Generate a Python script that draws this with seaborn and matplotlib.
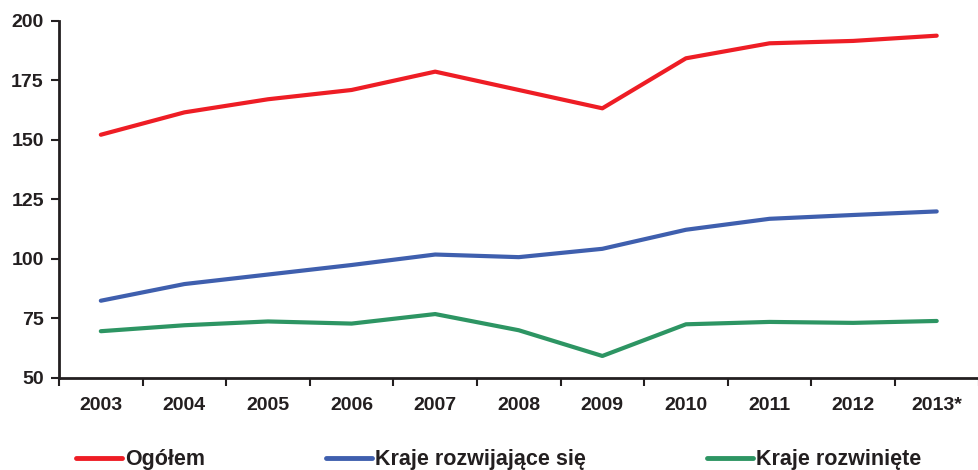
import numpy as np
import pandas as pd
import matplotlib
matplotlib.use("Agg")
import matplotlib.pyplot as plt
from matplotlib.ticker import FixedLocator
import seaborn as sns

# ------------------ Data ------------------
years = ["2003", "2004", "2005", "2006", "2007", "2008", "2009",
         "2010", "2011", "2012", "2013*"]
ogolem = [152.1, 161.5, 167.0, 170.9, 178.6, 170.9, 163.2, 184.2, 190.5, 191.5, 193.7]
rozwijajace = [82.4, 89.4, 93.4, 97.4, 101.8, 100.7, 104.2, 112.2, 116.8, 118.4, 119.9]
rozwiniete = [69.6, 72.1, 73.7, 72.8, 76.8, 70.0, 59.2, 72.5, 73.5, 73.1, 73.9]

series_names = ["Ogółem", "Kraje rozwijające się", "Kraje rozwinięte"]
colors = ["#EE1D25", "#3F5FAE", "#2D9563"]

pos = np.arange(len(years))
df = pd.DataFrame({
    "pos": np.tile(pos, 3),
    "value": ogolem + rozwijajace + rozwiniete,
    "series": np.repeat(series_names, len(years)),
})

# ------------------ Plot ------------------
sns.set_style("white")
plt.rcParams["font.family"] = ["Liberation Sans", "DejaVu Sans"]
plt.rcParams["font.weight"] = "bold"

fig, ax = plt.subplots(figsize=(9.79, 4.70), dpi=100)
fig.subplots_adjust(left=0.0603, right=0.9995, top=0.956, bottom=0.196)

sns.lineplot(data=df, x="pos", y="value", hue="series",
             hue_order=series_names, palette=colors,
             linewidth=3.0, ax=ax, legend=False)

ax.set_xlim(-0.5, len(years) - 0.5)
ax.set_ylim(50, 200)
ax.set_yticks([50, 75, 100, 125, 150, 175, 200])
ax.set_xticks(pos)
ax.set_xticklabels(years)
ax.xaxis.set_minor_locator(FixedLocator(np.arange(len(years) + 1) - 0.5))
ax.tick_params(axis="x", which="major", length=0, pad=14, labelsize=14)
ax.tick_params(axis="x", which="minor", length=6, width=1.5, direction="out",
               color="#231F20", bottom=True)
ax.tick_params(axis="y", length=6, width=1.5, direction="out",
               color="#231F20", left=True, labelsize=14, pad=5)
for lab in ax.get_xticklabels() + ax.get_yticklabels():
    lab.set_fontweight("bold")
    lab.set_color("#231F20")

for side in ["top", "right"]:
    ax.spines[side].set_visible(False)
for side in ["left", "bottom"]:
    ax.spines[side].set_color("#231F20")
    ax.spines[side].set_linewidth(2)
ax.set_xlabel("")
ax.set_ylabel("")

handles = [plt.Line2D([], [], color=c, linewidth=3.5) for c in colors]
leg = fig.legend(handles, series_names, loc="center left",
                 bbox_to_anchor=(0.058, 0.022), ncol=3, frameon=False,
                 handlelength=2.15, handletextpad=0.14, columnspacing=5.6,
                 prop={"weight": "bold", "size": 15.5})
for t in leg.get_texts():
    t.set_color("#231F20")

fig.savefig("out.png", dpi=100)
